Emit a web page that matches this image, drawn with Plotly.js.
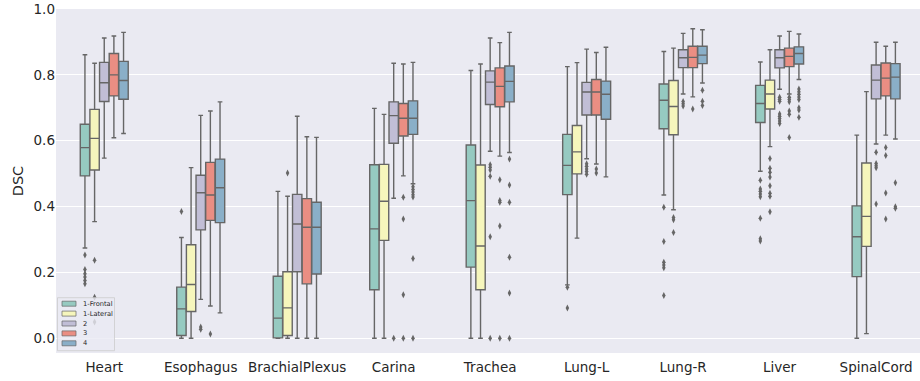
<!DOCTYPE html>
<html>
<head>
<meta charset="utf-8">
<script src="https://cdn.plot.ly/plotly-3.0.1.min.js"></script>
<style>html,body{margin:0;padding:0;background:#fff;}#chart{width:920px;height:381px;}</style>
</head>
<body>
<div id="chart"></div>
<script>
// ---- data ----
const categories = ['Heart','Esophagus','BrachialPlexus','Carina','Trachea','Lung-L','Lung-R','Liver','SpinalCord'];
const hues = ['1-Frontal','1-Lateral','2','3','4'];

// rows = hues, columns = categories
const upperFence = [
  [0.861, 0.306, 0.446, 0.698, 0.813, 0.825, 0.871, 0.839, 0.617],
  [0.835, 0.518, 0.431, 0.680, 0.833, 0.837, 0.881, 0.876, 0.749],
  [0.912, 0.677, 0.674, 0.835, 0.912, 0.878, 0.926, 0.918, 0.899],
  [0.918, 0.690, 0.612, 0.833, 0.898, 0.868, 0.940, 0.932, 0.887],
  [0.929, 0.718, 0.610, 0.838, 0.929, 0.884, 0.937, 0.924, 0.899]
];
const q3 = [
  [0.650, 0.155, 0.188, 0.527, 0.587, 0.619, 0.772, 0.768, 0.402],
  [0.695, 0.284, 0.202, 0.528, 0.526, 0.646, 0.783, 0.784, 0.532],
  [0.838, 0.495, 0.437, 0.718, 0.812, 0.777, 0.876, 0.876, 0.830],
  [0.865, 0.534, 0.424, 0.713, 0.821, 0.786, 0.887, 0.881, 0.836],
  [0.841, 0.544, 0.413, 0.721, 0.827, 0.781, 0.887, 0.885, 0.834]
];
const median = [
  [0.579, 0.089, 0.061, 0.332, 0.418, 0.525, 0.723, 0.713, 0.308],
  [0.607, 0.163, 0.092, 0.416, 0.280, 0.566, 0.704, 0.742, 0.370],
  [0.776, 0.442, 0.347, 0.676, 0.778, 0.748, 0.852, 0.852, 0.784],
  [0.800, 0.435, 0.337, 0.668, 0.765, 0.748, 0.853, 0.856, 0.790],
  [0.783, 0.457, 0.337, 0.668, 0.780, 0.741, 0.860, 0.865, 0.793]
];
const q1 = [
  [0.493, 0.008, 0.001, 0.147, 0.216, 0.436, 0.636, 0.655, 0.187],
  [0.511, 0.081, 0.008, 0.297, 0.147, 0.499, 0.618, 0.696, 0.279],
  [0.719, 0.329, 0.202, 0.592, 0.710, 0.678, 0.822, 0.821, 0.727],
  [0.736, 0.358, 0.165, 0.614, 0.703, 0.678, 0.822, 0.825, 0.736],
  [0.726, 0.351, 0.195, 0.619, 0.718, 0.665, 0.834, 0.833, 0.727]
];
const lowerFence = [
  [0.274, 0.000, 0.000, 0.000, 0.000, 0.162, 0.435, 0.507, 0.000],
  [0.354, 0.000, 0.000, 0.000, 0.000, 0.304, 0.390, 0.582, 0.014],
  [0.547, 0.118, 0.000, 0.425, 0.568, 0.545, 0.742, 0.756, 0.590],
  [0.609, 0.098, 0.000, 0.493, 0.553, 0.529, 0.733, 0.742, 0.617],
  [0.622, 0.077, 0.000, 0.469, 0.564, 0.490, 0.775, 0.786, 0.605]
];
const outliers = [
  [[0.253,0.209,0.196,0.186,0.175,0.165],[0.385],[],[],[],[0.155,0.092],[0.398,0.294,0.231,0.222,0.214,0.130],[0.480,0.453,0.446,0.438,0.430,0.364,0.302,0.295],[]],
  [[0.237,0.124,0.049],[],[0.502],[],[],[],[0.367,0.360,0.321],[0.546,0.516,0.504,0.490,0.463,0.440,0.431,0.384],[]],
  [[],[0.034,0.027],[],[0.0],[0.527,0.519,0.511,0.492,0.308,0.0],[0.530,0.522,0.514,0.506,0.498],[0.719,0.712,0.705],[0.732,0.726,0.720,0.681,0.674,0.667,0.660,0.652],[0.565,0.531,0.524,0.518,0.408]],
  [[],[0.013],[],[0.428,0.362,0.132,0.0],[0.481,0.418,0.413,0.341,0.0],[0.514,0.502],[0.696],[0.732,0.725,0.718,0.690,0.680,0.610],[0.579,0.555,0.441,0.362]],
  [[],[],[],[0.460,0.452,0.444,0.436,0.429,0.242,0.0],[0.544,0.465,0.413,0.246,0.137,0.0],[],[0.753,0.720,0.707],[0.757,0.749,0.741,0.733,0.725,0.700,0.693,0.671],[0.472,0.399,0.395]]
];
const yTicks = [0.0, 0.2, 0.4, 0.6, 0.8, 1.0];

// ---- style ----
const fills = ['#96cac1','#f6f6bc','#c1bed6','#ea8e83','#8aafc8'];
const gray = '#666666';
const textColor = '#262626';
const hueStep = 0.1;
const font = 'DejaVu Sans, sans-serif';

const traces = [];
hues.forEach((h, hi) => {
  const off = (hi - (hues.length - 1) / 2) * hueStep;
  const xs = categories.map((c, ci) => ci + off);
  traces.push({
    type: 'box', name: h, x: xs,
    q1: q1[hi], median: median[hi], q3: q3[hi],
    lowerfence: lowerFence[hi], upperfence: upperFence[hi],
    width: hueStep * 0.97, whiskerwidth: 0.5,
    fillcolor: fills[hi], line: {color: gray, width: 1.4},
    boxpoints: false, showlegend: false, hoverinfo: 'skip'
  });
  const ox = [], oy = [];
  outliers[hi].forEach((arr, ci) => arr.forEach(v => { ox.push(ci + off); oy.push(v); }));
  traces.push({
    type: 'scatter', mode: 'markers', x: ox, y: oy, showlegend: false, hoverinfo: 'skip',
    marker: {symbol: 'diamond-tall', size: 5, color: gray, line: {width: 0}}
  });
});

// custom compact legend (matplotlib-like)
const plotLeft = 56, plotW = 864, plotBottom = 353.3, plotH = 344;
const px = X => (X - plotLeft) / plotW;
const py = Y => (plotBottom - Y) / plotH;
const shapes = [{
  type: 'rect', xref: 'paper', yref: 'paper', layer: 'above',
  x0: px(57.5), x1: px(114.5), y0: py(351), y1: py(298),
  fillcolor: 'rgba(234,234,242,0.8)', line: {color: 'rgba(204,204,204,0.8)', width: 1}
}];
const annotations = [];
hues.forEach((h, hi) => {
  const cy = 304 + hi * 9.9;
  shapes.push({
    type: 'rect', xref: 'paper', yref: 'paper', layer: 'above',
    x0: px(62), x1: px(76), y0: py(cy + 2.5), y1: py(cy - 2.5),
    fillcolor: fills[hi], line: {color: gray, width: 0.7}
  });
  annotations.push({
    xref: 'paper', yref: 'paper', x: px(81), y: py(cy), xanchor: 'left', yanchor: 'middle',
    text: h, showarrow: false, font: {family: font, size: 6.7, color: textColor}
  });
});

const layout = {
  width: 920, height: 381,
  margin: {l: 56, r: 0, t: 9, b: 28},
  paper_bgcolor: '#ffffff', plot_bgcolor: '#eaeaf2',
  font: {family: font, color: textColor, size: 13.5},
  showlegend: false, boxmode: 'overlay',
  xaxis: {
    range: [-0.5, 8.455], tickmode: 'array', tickvals: categories.map((c, i) => i), ticktext: categories,
    showgrid: false, zeroline: false, showline: false, ticks: '', ticklabelstandoff: 4,
    tickfont: {family: font, size: 13.5, color: textColor}
  },
  yaxis: {
    range: [-0.045, 1.0], tickmode: 'array', tickvals: yTicks, ticktext: yTicks.map(v => v.toFixed(1)),
    showgrid: true, gridcolor: '#ffffff', gridwidth: 1, zeroline: false, showline: false, ticks: '',
    tickfont: {family: font, size: 13.5, color: textColor},
    title: {text: 'DSC', font: {family: font, size: 14.5, color: textColor}, standoff: 6}
  },
  shapes: shapes, annotations: annotations
};

Plotly.newPlot('chart', traces, layout, {staticPlot: true, displayModeBar: false});
</script>
</body>
</html>
